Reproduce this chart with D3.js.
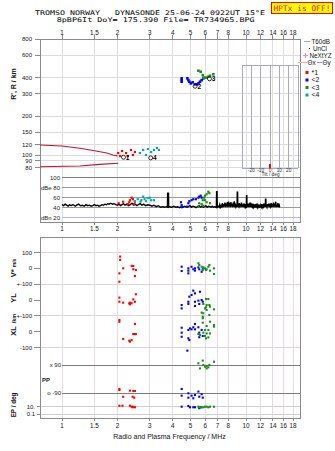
<!DOCTYPE html>
<html><head><meta charset="utf-8">
<script src="https://cdn.jsdelivr.net/npm/d3@7"></script>
<style>
body{margin:0;background:#fff}
svg{display:block}
text{font-family:"Liberation Sans",Arial,sans-serif}
.mono{font-family:"DejaVu Sans Mono",monospace;white-space:pre}
</style>
</head><body>
<svg id="c" width="335" height="451"></svg>
<script>
// ---- axis ticks ----
const freqTicks = [1,1.5,2,3,4,5,6,7,8,10,12,14,16,18];
const heightTicks = [800,600,400,300,200,150,120,100,90,80];
const dbTicks = [[100,"100"],[80,"dBe 80"],[60,"60"],[40,"40"],[20,"dBn 20"]];
const lowerTicks = [["v",100,"100"],["v",0,"0"],["v",-100,"+-100"],["yl",0,"0"],["yl",-100,"+-100"],["xl",0,"0"],["xl",-100,"-100"]];
const tiltTicks = [-20,-10,0,10,20];
const tiltGrid = [-30,-20,-10,0,10,20,30];

// ---- model E-region curves (f MHz, h km) ----
const eUpper = [[0.76,119.6],[1.0,117.5],[1.25,112.8],[1.45,109],[1.61,106.1],[1.75,103.5],[1.89,100],[2.0,98.5]];
const eLower = [[0.76,81.1],[1.25,82.1],[1.6,84.6],[2.02,86.2]];

// ---- virtual height echoes (f MHz, h km) ----
const redH  = [[2.02,103.6],[2.07,98.2],[2.12,107.4],[2.23,103.6],[2.28,98.2],[2.37,109.3],[2.43,100],[2.49,105.5]];
const cyanH = [[2.65,103.6],[2.76,109.4],[2.86,100],[2.93,111.3],[3.05,105.5],[3.16,109.4],[3.28,113.4],[3.36,109.4]];
const blueH = [[4.47,395],[4.47,383],[4.47,372],[4.80,395],[4.86,383],[4.92,372],[5.01,361],[5.13,368],[5.28,355],[5.40,355],[5.52,362],[5.62,372],[5.74,383],[5.86,395]];
const greenH = [[5.51,453],[5.67,445],[5.82,419],[5.86,400],[5.99,400],[6.11,400],[6.24,407],[6.37,414],[6.64,425]];
const traceTags = [[2.2,96,"1"],[5.39,343,"2"],[6.45,392,"3"],[3.09,95,"4"]];

// ---- amplitude trace (f MHz, dB) ----
const ampTrace = [
[1.00,46],[1.02,44],[1.04,47],[1.06,45],[1.08,43],[1.10,46],[1.12,44],[1.14,46],[1.16,45],[1.18,43],
[1.20,45],[1.23,47],[1.26,44],[1.29,45],[1.32,43],[1.35,46],[1.38,44],[1.41,45],[1.44,43],[1.47,44],
[1.50,46],[1.53,44],[1.56,45],[1.59,43],[1.62,44],[1.65,46],[1.68,45],[1.71,47],[1.74,46],[1.77,48],
[1.80,47],[1.84,49],[1.88,47],[1.92,48],[1.96,46],
[2.00,45],[2.04,47],[2.08,44],[2.12,46],[2.16,48],[2.20,45],[2.25,47],[2.30,44],[2.35,46],[2.40,49],
[2.45,45],[2.50,47],[2.55,44],[2.60,46],[2.66,48],[2.72,45],[2.78,47],[2.85,44],[2.92,46],[3.00,45],
[3.08,43],[3.16,45],[3.25,42],[3.34,44],[3.43,41],[3.52,42],[3.60,41],[3.68,42],
[3.74,41],[3.75,69],[3.79,69],[3.80,41],
[3.85,42],[3.95,41],[4.05,43],[4.15,41],[4.25,42],[4.35,40],[4.45,42],[4.55,41],[4.65,43],[4.75,41],
[4.85,42],[4.95,44],[5.05,41],[5.15,43],[5.25,42],[5.35,40],[5.45,42],[5.55,44],[5.65,41],[5.75,43],
[5.85,41],[5.95,42],[6.05,44],[6.15,41],[6.25,43],[6.35,42],[6.45,41],[6.55,43],[6.65,41],[6.75,42],[6.85,41],
[6.90,41],[6.92,72],[6.96,72],[6.98,41],
[7.02,42],[7.08,43],[7.14,41],[7.20,46],[7.26,41],[7.32,44],[7.38,42],[7.44,49],[7.50,41],[7.56,47],
[7.62,42],[7.68,50],[7.74,41],[7.80,48],[7.86,42],[7.92,51],[7.98,41],[8.04,52],[8.10,42],[8.16,49],
[8.22,41],[8.28,51],[8.34,42],[8.40,47],[8.46,41],[8.52,50],[8.58,42],[8.64,53],[8.70,41],[8.76,48],[8.82,42],[8.88,45],
[8.94,42],[8.96,71],[9.00,71],[9.02,42],
[9.08,44],[9.14,42],[9.20,49],[9.26,41],[9.32,47],[9.38,42],[9.44,50],[9.50,41],[9.56,46],[9.62,42],
[9.68,48],[9.74,41],[9.80,45],[9.86,42],[9.92,47],[9.98,41],
[10.04,42],[10.06,64],[10.10,64],[10.12,42],
[10.18,43],[10.26,48],[10.34,41],[10.42,46],[10.50,42],[10.58,50],[10.66,41],[10.74,45],[10.82,42],[10.90,48],
[10.98,41],[11.06,44],[11.14,42],[11.22,47],[11.30,40],[11.38,45],[11.46,42],[11.54,48],[11.62,41],[11.70,44],
[11.78,42],[11.86,46],[11.94,40],[12.02,45],[12.10,42],[12.18,47],[12.26,41],[12.34,44],[12.42,42],[12.50,48],[12.58,41],[12.66,45],
[12.74,42],[12.76,57],[12.82,57],[12.84,42],
[12.92,44],[13.00,41],[13.10,47],[13.20,42],[13.30,48],[13.40,41],[13.50,45],[13.60,42],[13.70,49],[13.80,41],
[13.90,47],[14.00,42],[14.10,50],[14.20,41],[14.30,48],[14.40,42],[14.50,52],[14.60,41],[14.70,46],[14.80,42],
[14.90,49],[15.00,41],[15.10,48],[15.20,42],[15.30,41]
];
const redAmp  = [[2.03,49],[2.15,52],[2.28,47],[2.32,51],[2.34,55],[2.39,60],[2.43,57],[2.49,52],[2.46,47]];
const cyanAmp = [[2.49,53],[2.58,57],[2.67,52],[2.76,62],[2.81,57],[2.86,53],[2.92,59],[3.00,60],[3.05,55],[3.16,55],[2.70,55]];
const blueAmp = [[4.43,51],[4.47,45],[4.47,41],[4.78,42],[4.86,49],[4.92,53],[5.06,55],[5.17,57],[5.34,57],[5.51,60],[5.57,62],[5.67,64],[5.74,60]];
const greenAmp = [[5.51,42],[5.57,49],[5.74,47],[5.82,55],[5.92,60],[5.99,64],[6.11,67],[6.24,72],[6.32,69],[5.99,55],[6.11,51],[6.37,49],[5.86,44]];

// ---- drift velocity V*, YL, XL (f MHz, value) ----
const redV  = [[2.07,74],[2.07,53],[2.15,0],[2.39,15],[2.44,15],[2.44,-6],[2.49,-49],[2.52,-11],[2.05,-32],[2.05,-85]];
const redYL = [[2.05,15],[2.05,-11],[2.15,-17],[2.32,-21],[2.34,-27],[2.39,-21],[2.44,4],[2.49,-11],[2.52,36],[2.34,-17]];
const redXL = [[2.05,74],[2.05,63],[2.49,49],[2.44,-15],[2.49,-15],[2.52,-15],[2.15,-46],[2.39,-53],[2.34,-63],[2.32,-57]];
const blueV  = [[4.47,10],[4.47,-17],[4.86,0],[4.86,-15],[4.86,-32],[5.06,10],[5.17,-6],[5.28,0],[5.28,-15],[5.51,6],[5.57,-6],[5.74,-22],[5.82,-6]];
const blueYL = [[4.47,-32],[4.47,-53],[4.86,-11],[4.86,-25],[4.92,21],[5.06,32],[5.17,59],[5.28,42],[5.28,-11],[5.28,-38],[5.51,-4],[5.57,-25],[5.62,52],[5.74,0],[5.82,-11]];
const blueXL = [[4.47,25],[4.47,-6],[4.47,-32],[4.86,11],[4.86,-42],[4.92,-53],[4.96,21],[5.06,15],[5.17,28],[5.28,49],[5.28,15],[5.51,28],[5.57,-6],[5.57,-35],[5.74,11],[5.82,-27],[4.80,-120]];
const greenV  = [[5.51,32],[5.57,21],[5.74,10],[5.86,6],[5.99,0],[6.11,-6],[6.24,10],[6.32,21],[6.37,-15],[6.70,0],[6.70,-36],[6.06,-11],[5.82,-11]];
const greenYL = [[6.06,6],[6.24,6],[5.86,-25],[6.11,-32],[6.32,-32],[5.99,-53],[6.11,-63],[5.74,-80],[5.86,-84],[6.37,-42],[6.70,-59],[6.32,-95],[6.06,-46]];
const greenXL = [[5.82,95],[5.82,85],[5.82,57],[6.37,63],[6.70,42],[6.70,32],[6.11,36],[5.99,11],[6.24,11],[5.86,-6],[6.11,-11],[5.62,-21],[5.99,-27],[6.24,-36],[6.37,-11],[6.06,-42],[5.51,-15]];

// ---- polarisation PP and EP (f MHz, deg) ----
const redPP  = [[2.05,-64],[2.05,-71],[2.34,-75],[2.44,-77],[2.49,-77],[2.15,-114],[2.42,-114],[2.47,-120]];
const bluePP = [[4.47,-64],[4.47,-107],[4.86,-92],[4.86,-120],[5.06,-107],[5.17,-124],[5.28,-103],[5.51,-81],[5.57,-114],[5.74,-98],[5.82,-120]];
const greenPP = [[5.51,101],[5.82,118],[5.86,90],[5.99,79],[6.11,84],[6.24,75],[6.32,90],[6.70,111],[5.62,68],[6.11,68]];
const redEP  = [[2.05,18],[2.13,18],[2.34,18],[2.39,10],[2.44,10],[2.49,7],[2.42,7]];
const blueEP = [[4.47,10],[4.86,15],[4.96,7],[5.17,7],[5.28,7],[5.57,4],[5.67,7]];
const greenEP = [[5.51,10],[5.62,7],[5.74,7],[5.86,7],[5.99,10],[6.11,10],[6.24,7],[6.37,10],[6.70,10]];

const legendLines = [["T60dB"],["UnCl"],["NeXtYZ"]];
const legendTraces = [["*1","#ff0000"],["<2","#0000ff"],["<3","#1e8c1e"],["<4","#00a8a8"]];

// ---- layout ----
const X0 = 40, X1 = 300, UT = 39, UB = 222, LT = 237, LB = 418;
const RED = "#ff0000", BLUE = "#0000ff", GREEN = "#1e8c1e", CYAN = "#00a8a8";

const fx  = d3.scaleLog().domain([1,18]).range([62,293]);
const hy  = d3.scaleLog().domain([100,800]).range([155,39]);
const dby = d3.scaleLinear().domain([20,100]).range([217.7,177.7]);
const rowScale = c => d3.scaleLinear().domain([-100,100]).range([c+15.8,c-15.8]);
const rows = {v: rowScale(268.3), yl: rowScale(300), xl: rowScale(331.7)};
const ppy = d3.scaleLinear().domain([-90,90]).range([393,365]);
const epy = d3.scaleLog().domain([0.1,10]).range([414.3,406.7]);
const tx  = d3.scaleLinear().domain([-30,30]).range([242,298]);

const svg = d3.select("#c");
const hline = (g,x1,x2,y,c,w) => g.append("line").attr("x1",x1).attr("x2",x2).attr("y1",y).attr("y2",y)
  .attr("stroke",c).attr("stroke-width",w||1).attr("shape-rendering","crispEdges");
const vline = (g,x,y1,y2,c,w) => g.append("line").attr("x1",x).attr("x2",x).attr("y1",y1).attr("y2",y2)
  .attr("stroke",c).attr("stroke-width",w||1).attr("shape-rendering","crispEdges");

// ---- title ----
svg.append("text").attr("class","mono").attr("x",35).attr("y",14.8).attr("font-size",6.4)
  .attr("textLength",230).attr("lengthAdjust","spacingAndGlyphs").attr("fill","#000")
  .text("TROMSO NORWAY   DYNASONDE 25-06-24 0922UT 15°E");
svg.append("text").attr("class","mono").attr("x",56.7).attr("y",22.4).attr("font-size",6.4)
  .attr("textLength",198).attr("lengthAdjust","spacingAndGlyphs").attr("fill","#000")
  .text("8pBP6It DoY= 175.390 File= TR734965.BPG");
svg.append("rect").attr("x",271.5).attr("y",2.5).attr("width",61).attr("height",11)
  .attr("fill","#ffff00").attr("stroke","#ff0000");
svg.append("text").attr("class","mono").attr("x",273.5).attr("y",11.3)
  .attr("font-size",7.6).attr("textLength",57).attr("lengthAdjust","spacingAndGlyphs")
  .attr("fill","#ff0000").text("HPTx is OFF!");

// ---- grids ----
const grid = svg.append("g");
freqTicks.forEach(f => {
  vline(grid, fx(f), UT, UB, "#dcdcdc");
  vline(grid, fx(f), LT, LB, "#e4dce2");
});
heightTicks.slice(1).forEach(h => hline(grid, X0, X1, hy(h), "#dcdcdc"));

// amplitude reference lines
const dbg = svg.append("g");
dbTicks.forEach(([v,t]) => {
  hline(dbg, 62, X1, dby(v), v === 20 ? "#b4b4ec" : (v === 100 ? "#7a7a7a" : "#9a9a9a"));
  dbg.append("text").attr("x",60).attr("y",dby(v)).attr("dy","0.35em").attr("text-anchor","end")
    .attr("font-size",6).attr("fill","#222").text(t);
});

// lower panel reference lines
const lg = svg.append("g");
[rows.v(100), rows.v(-100), rows.yl(-100), rows.xl(-100)].forEach(y => hline(lg, X0, X1, y, "#ddd3da"));
hline(lg, 62, X1, ppy(90), "#7a7a7a");
hline(lg, 62, X1, ppy(-90), "#7a7a7a");
hline(lg, X0, X1, epy(10), "#cfcfcf");
hline(lg, X0, X1, epy(0.1), "#cfcfcf");
lg.append("text").attr("x",61).attr("y",ppy(90)).attr("dy","0.35em").attr("text-anchor","end").attr("font-size",6).attr("fill","#222").text("x 90");
lg.append("text").attr("x",61).attr("y",ppy(-90)).attr("dy","0.35em").attr("text-anchor","end").attr("font-size",6).attr("fill","#222").text("o -90");
lg.append("text").attr("x",42).attr("y",380).attr("dy","0.35em").attr("font-size",6).attr("font-weight","bold").attr("fill","#222").text("PP");

// ---- tilt inset ----
const tg = svg.append("g");
tiltGrid.forEach(t => vline(tg, tx(t), 65, 168, "#a8a8c4"));
hline(tg, tx(-30), tx(30), 65, "#a8a8c4");
hline(tg, tx(-30), tx(30), 168, "#a8a8c4");
vline(tg, tx(0), 164, 168, "#ff0000", 1.2);
tiltTicks.forEach(t => tg.append("text").attr("x",tx(t)).attr("y",170.6).attr("dy","0.35em").attr("text-anchor","middle")
  .attr("font-size",4.8).attr("fill","#333").text(t));
tg.append("text").attr("x",270.5).attr("y",174.3).attr("dy","0.35em").attr("text-anchor","middle")
  .attr("font-size",4.8).attr("fill","#333").text("Tilt / deg");

// ---- frames ----
svg.append("rect").attr("x",X0+0.5).attr("y",UT+0.5).attr("width",X1-X0).attr("height",UB-UT)
  .attr("fill","none").attr("stroke","#8a8a8a");
svg.append("rect").attr("x",X0+0.5).attr("y",LT+0.5).attr("width",X1-X0).attr("height",LB-LT)
  .attr("fill","none").attr("stroke","#8a8a8a");

// ---- frequency axes ----
const ax = svg.append("g").attr("font-size",6.3).attr("fill","#111").attr("text-anchor","middle");
freqTicks.forEach(f => {
  vline(ax, fx(f), UT-4, UT, "#8a8a8a");
  vline(ax, fx(f), UB, UB+3, "#8a8a8a");
  vline(ax, fx(f), LB, LB+3, "#8a8a8a");
  [33, 228.5, 425.5].forEach(y => ax.append("text").attr("x",fx(f)).attr("y",y).attr("dy","0.35em").text(f));
});

// height axis
heightTicks.forEach(h => {
  hline(ax, 35, X0, hy(h), "#8a8a8a");
  ax.append("text").attr("x",32).attr("y",hy(h)).attr("dy","0.35em").attr("text-anchor","end").attr("font-size",6).text(h);
});
// lower axis ticks
lowerTicks.forEach(([r,v,t]) => {
  const y = rows[r](v);
  hline(ax, 34, X0, y, "#8a8a8a");
  ax.append("text").attr("x",32).attr("y",y).attr("dy","0.35em").attr("text-anchor","end").attr("font-size",6).text(t);
});
[[10,"10."],[0.1,"0.1"]].forEach(([v,t]) => {
  hline(ax, 37, X0, epy(v), "#8a8a8a");
  ax.append("text").attr("x",35).attr("y",epy(v)).attr("dy","0.35em").attr("text-anchor","end").attr("font-size",6).text(t);
});

// axis titles
const rot = (x,y,size,txt) => svg.append("text").attr("transform",`translate(${x},${y}) rotate(-90)`)
  .attr("text-anchor","middle").attr("font-size",size).attr("font-weight","bold").attr("fill","#111").text(txt);
rot(16, 84, 7, "R', R / km");
const vt = svg.append("text").attr("transform","translate(16,268) rotate(-90)").attr("text-anchor","middle")
  .attr("font-weight","bold").attr("fill","#111");
vt.append("tspan").attr("font-size",7.5).text("V* ");
vt.append("tspan").attr("font-size",5).text("m/s");
rot(16, 298, 7.5, "YL");
rot(16, 318.5, 5.5, "/km");
rot(16, 331, 7.5, "XL");
rot(16, 405, 6.3, "EP / deg");
svg.append("text").attr("x",169.5).attr("y",438.5).attr("text-anchor","middle").attr("font-size",7)
  .attr("fill","#111").text("Radio and Plasma Frequency / MHz");

// ---- legend ----
const leg = svg.append("g").attr("font-size",6.3).attr("fill","#111");
hline(leg, 304, 310, 41.5, "#aaaaaa");
leg.append("text").attr("x",311.5).attr("y",41.5).attr("dy","0.35em").text(legendLines[0][0]);
leg.append("rect").attr("x",309).attr("y",48).attr("width",1).attr("height",1).attr("fill","#000");
leg.append("text").attr("x",313).attr("y",48.5).attr("dy","0.35em").text(legendLines[1][0]);
hline(leg, 302.5, 307.5, 55.5, "#ff88aa");
vline(leg, 305, 53, 58, "#ff88aa");
leg.append("text").attr("x",309.5).attr("y",55.5).attr("dy","0.35em").text(legendLines[2][0]);
hline(leg, 298, 307, 62.5, "#ffaaaa");
leg.append("text").attr("x",307.5).attr("y",62.5).attr("dy","0.35em").text("Θx");
hline(leg, 316.5, 322, 62.5, "#8c8cff");
leg.append("text").attr("x",322.5).attr("y",62.5).attr("dy","0.35em").text("Θy");
legendTraces.forEach(([t,c],i) => {
  const y = 72.5 + i*7.5;
  leg.append("rect").attr("x",305.5).attr("y",y-1.5).attr("width",3).attr("height",3).attr("fill",c);
  leg.append("text").attr("x",311.5).attr("y",y).attr("dy","0.35em").attr("font-size",7).text(t);
});

// ---- data ----
const data = svg.append("g");
const sq = (arr, ys, color, s) => data.append("g").selectAll("rect").data(arr).join("rect")
  .attr("x", d => fx(d[0]) - s/2).attr("y", d => ys(d[1]) - s/2)
  .attr("width", s).attr("height", s).attr("fill", color);

// model curves
const hl = d3.line().x(d => fx(d[0])).y(d => hy(d[1]));
data.append("path").attr("d", hl(eUpper)).attr("fill","none").attr("stroke","#c8102e").attr("stroke-width",1.1);
data.append("path").attr("d", hl(eLower)).attr("fill","none").attr("stroke","#c8102e").attr("stroke-width",1.1);

// echo traces
sq(redH, hy, RED, 2.2);
sq(cyanH, hy, CYAN, 2.2);
sq(blueH, hy, BLUE, 2.6);
sq(greenH, hy, GREEN, 2.6);
traceTags.forEach(([f,h,t]) => {
  data.append("circle").attr("cx",fx(f)-1.5).attr("cy",hy(h)).attr("r",2).attr("fill","none").attr("stroke","#000").attr("stroke-width",0.8);
  data.append("text").attr("x",fx(f)+0.8).attr("y",hy(h)).attr("dy","0.35em").attr("font-size",6.5).attr("font-weight","bold").attr("fill","#000").text(t);
});

// amplitude
const al = d3.line().x(d => fx(d[0])).y(d => dby(d[1]));
data.append("path").attr("d", al(ampTrace)).attr("fill","none").attr("stroke","#000").attr("stroke-width",1.4);
sq(redAmp, dby, RED, 2.2);
sq(cyanAmp, dby, CYAN, 2.2);
sq(blueAmp, dby, BLUE, 2.2);
sq(greenAmp, dby, GREEN, 2.2);

// velocities
[[redV,RED],[blueV,BLUE],[greenV,GREEN]].forEach(([a,c]) => sq(a, rows.v, c, 2.1));
[[redYL,RED],[blueYL,BLUE],[greenYL,GREEN]].forEach(([a,c]) => sq(a, rows.yl, c, 2.1));
[[redXL,RED],[blueXL,BLUE],[greenXL,GREEN]].forEach(([a,c]) => sq(a, rows.xl, c, 2.1));
[[redPP,RED],[bluePP,BLUE],[greenPP,GREEN]].forEach(([a,c]) => sq(a, ppy, c, 2.1));
[[redEP,RED],[blueEP,BLUE],[greenEP,GREEN]].forEach(([a,c]) => sq(a, epy, c, 2.1));
</script>
</body></html>
